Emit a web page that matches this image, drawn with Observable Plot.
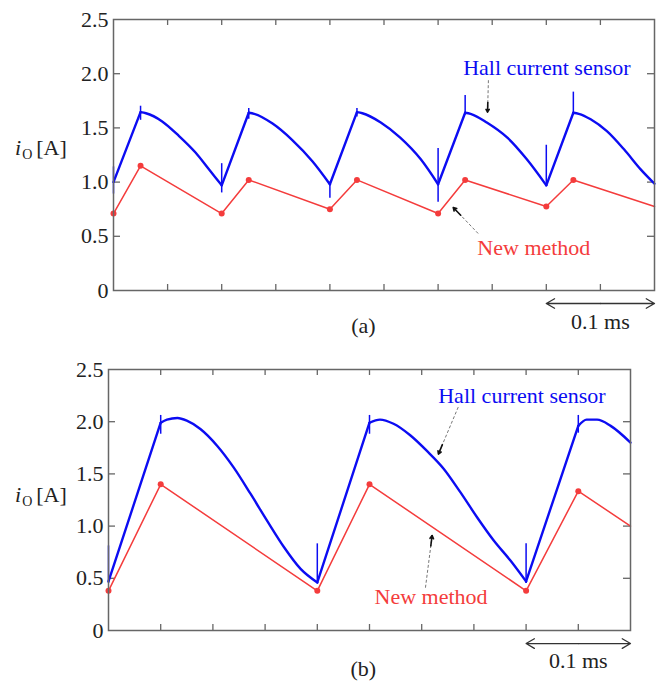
<!DOCTYPE html>
<html>
<head>
<meta charset="utf-8">
<script src="https://cdn.jsdelivr.net/npm/d3@7"></script>
<script src="https://cdn.jsdelivr.net/npm/@observablehq/plot@0.6"></script>
<style>
  body { margin: 0; background: #fff; }
  #chart { width: 658px; }
  #chart svg { display: block; }
</style>
</head>
<body>
<div id="chart"></div>
<script>
// ---------- data (time in µs, current in A) ----------
const yTicks = [0, 0.5, 1.0, 1.5, 2.0, 2.5];
const yTickLabels = ["0", "0.5", "1.0", "1.5", "2.0", "2.5"];
const xTicks = [0, 50, 100, 150, 200, 250, 300, 350, 400, 450, 500];

// Panel (a)
const hallA = [
  [0, 1.00], [25, 1.645],
  [30, 1.635], [45, 1.56], [60, 1.43], [76, 1.27], [88, 1.12], [100, 0.97],
  [125, 1.64],
  [130, 1.63], [147, 1.54], [165, 1.39], [184, 1.19], [200, 0.98],
  [225, 1.645],
  [230, 1.635], [247, 1.55], [265, 1.41], [284, 1.21], [300, 0.98],
  [325, 1.64],
  [330, 1.63], [345, 1.55], [364, 1.41], [382, 1.21], [400, 0.97],
  [425, 1.64],
  [430, 1.63], [441, 1.58], [456, 1.47], [472, 1.30], [487, 1.12], [500, 0.985]
];
const switchA = [0, 25, 100, 125, 200, 225, 300, 325, 400, 425, 500];
const spikesA = [
  [0, 0.89, 1.14], [25, 1.57, 1.70], [100, 0.90, 1.17], [125, 1.58, 1.68],
  [200, 0.85, 1.00], [225, 1.60, 1.68], [300, 0.815, 1.31], [325, 1.62, 1.80],
  [400, 0.96, 1.34], [425, 1.62, 1.83]
];
const newA = [
  [0, 0.71], [25, 1.15], [100, 0.71], [125, 1.02], [200, 0.75],
  [225, 1.02], [300, 0.71], [325, 1.02], [400, 0.775], [425, 1.02]
];
const newAEnd = [500, 0.775];

// Panel (b)
const hallB = [
  [0, 0.47], [50, 1.99],
  [56, 2.02], [66, 2.035], [75, 2.01], [88, 1.93], [104, 1.77], [120, 1.56],
  [136, 1.31], [152, 1.05], [168, 0.80], [184, 0.59], [200, 0.46],
  [250, 1.99],
  [260, 2.02], [273, 1.98], [289, 1.87], [305, 1.72], [321, 1.55], [337, 1.325],
  [353, 1.085], [369, 0.862], [385, 0.67], [400, 0.47],
  [450, 1.96],
  [458, 2.02], [468, 2.02], [481, 1.96], [500, 1.80]
];
const switchB = [0, 50, 200, 250, 400, 450, 500];
const spikesB = [
  [0, 0.45, 0.81], [50, 1.88, 2.06], [200, 0.45, 0.83],
  [250, 1.88, 2.06], [400, 0.45, 0.83], [450, 1.89, 2.06]
];
const newB = [
  [0, 0.38], [50, 1.40], [200, 0.38], [250, 1.40], [400, 0.38], [450, 1.335]
];
const newBEnd = [500, 1.00];

const hallLabel = "Hall current sensor";
const newLabel = "New method";
const scaleLabel = "0.1 ms";

// ---------- styling ----------
const BLUE = "#0c0cf2";
const RED = "#f43c3c";
const FRAME = "#666";
const FONT = "'Liberation Serif', 'Times New Roman', serif";
const FS = 22;

function segments(points, switches) {
  const out = [];
  let seg = 0;
  points.forEach((p, i) => {
    out.push({t: p[0], v: p[1], seg});
    if (i > 0 && i < points.length - 1 && switches.includes(p[0])) {
      seg++;
      out.push({t: p[0], v: p[1], seg});
    }
  });
  return out;
}

function panel(cfg) {
  const W = 658;
  const pw = W - cfg.ml - cfg.mr;
  const ph = cfg.h - cfg.mt - cfg.mb;
  const hall = segments(cfg.hall, cfg.switches);
  const red = cfg.red.concat([cfg.redEnd]);
  const innerY = yTicks.slice(1, -1);
  const innerX = xTicks.slice(1, -1);
  const arrows = cfg.arrows;
  const heads = arrows.map(a => ({
    x1: a.x2 + (a.x1 - a.x2) * a.f, y1: a.y2 + (a.y1 - a.y2) * a.f,
    x2: a.x2, y2: a.y2
  }));

  const svg = Plot.plot({
    width: W,
    height: cfg.h,
    marginLeft: cfg.ml,
    marginRight: cfg.mr,
    marginTop: cfg.mt,
    marginBottom: cfg.mb,
    style: {fontFamily: FONT, fontSize: FS + "px", color: "#222", background: "#fff", overflow: "visible"},
    x: {domain: [0, 500], axis: null},
    y: {domain: [0, 2.5]},
    marks: [
      Plot.axisY(yTicks, {
        tickSize: 0, tickPadding: 5, fontSize: FS,
        tickFormat: d => yTickLabels[yTicks.indexOf(d)]
      }),
      // inward ticks on the four sides
      Plot.tickY(innerY, {y: d => d, insetRight: pw - 7, stroke: FRAME, strokeWidth: 1.3}),
      Plot.tickY(innerY, {y: d => d, insetLeft: pw - 7, stroke: FRAME, strokeWidth: 1.3}),
      Plot.tickX(innerX, {x: d => d, insetBottom: ph - 6, stroke: FRAME, strokeWidth: 1.3}),
      Plot.tickX(innerX, {x: d => d, insetTop: ph - 6, stroke: FRAME, strokeWidth: 1.3}),
      // red estimate line
      Plot.line(red, {x: d => d[0], y: d => d[1], stroke: RED, strokeWidth: 1.5}),
      Plot.dot(cfg.red, {x: d => d[0], y: d => d[1], r: 3, fill: RED}),
      // hall sensor waveform
      Plot.ruleX(cfg.spikes, {x: d => d[0], y1: d => d[1], y2: d => d[2], stroke: BLUE, strokeWidth: 1.5}),
      Plot.line(hall, {x: "t", y: "v", z: "seg", curve: "monotone-x", stroke: BLUE, strokeWidth: 2.4}),
      Plot.frame({stroke: FRAME, strokeWidth: 1.5}),
      // annotation arrows
      Plot.link(arrows, {x1: "x1", y1: "y1", x2: "x2", y2: "y2", stroke: "#777", strokeWidth: 1, strokeDasharray: "3,2"}),
      Plot.arrow(heads, {x1: "x1", y1: "y1", x2: "x2", y2: "y2", stroke: "#111", strokeWidth: 1.6, headLength: 7, bend: 0}),
      // scale bar
      Plot.arrow([{x1: 450, x2: 400}, {x1: 450, x2: 500}], {x1: "x1", x2: "x2", y1: cfg.barY, y2: cfg.barY, stroke: "#333", strokeWidth: 1.3, headLength: 11, bend: 0}),
      Plot.text([scaleLabel], {x: 450, y: cfg.barTextY, text: d => d, fontSize: FS, fill: "#222"}),
      Plot.text([cfg.tag], {x: cfg.tagX, y: cfg.tagY, text: d => d, fontSize: FS, fill: "#222"}),
      Plot.text([hallLabel], {x: cfg.hallX, y: cfg.hallY, text: d => d, fontSize: FS, fill: BLUE}),
      Plot.text([newLabel], {x: cfg.newX, y: cfg.newY, text: d => d, fontSize: FS, fill: RED})
    ]
  });

  // y-axis title: i_O [A]
  const t = d3.select(svg).append("text")
    .attr("x", 15).attr("y", cfg.labelY)
    .attr("text-anchor", "start")
    .attr("font-family", FONT).attr("font-size", FS).attr("fill", "#222");
  t.append("tspan").attr("font-style", "italic").text("i");
  t.append("tspan").attr("font-size", 14).attr("dy", 4).attr("dx", 1).text("O");
  t.append("tspan").attr("dy", -4).attr("dx", 4).text("[A]");
  return svg;
}

const chart = document.getElementById("chart");
chart.appendChild(panel({
  h: 340, ml: 113, mr: 4, mt: 19, mb: 50,
  hall: hallA, switches: switchA, spikes: spikesA, red: newA, redEnd: newAEnd,
  arrows: [
    {x1: 346.5, y1: 1.94, x2: 345.7, y2: 1.645, f: 0.3},
    {x1: 337, y1: 0.526, x2: 314, y2: 0.766, f: 0.3}
  ],
  barY: -0.12, barTextY: -0.29, tag: "(a)", tagX: 231, tagY: -0.33,
  hallX: 400.5, hallY: 2.055, newX: 388.5, newY: 0.39, labelY: 155
}));
chart.appendChild(panel({
  h: 342, ml: 108, mr: 28, mt: 29, mb: 52,
  hall: hallB, switches: switchB, spikes: spikesB, red: newB, redEnd: newBEnd,
  arrows: [
    {x1: 335, y1: 2.14, x2: 316, y2: 1.69, f: 0.2},
    {x1: 303.6, y1: 0.41, x2: 310, y2: 0.91, f: 0.2}
  ],
  barY: -0.125, barTextY: -0.29, tag: "(b)", tagX: 244, tagY: -0.37,
  hallX: 396, hallY: 2.25, newX: 309, newY: 0.32, labelY: 162
}));
</script>
</body>
</html>
